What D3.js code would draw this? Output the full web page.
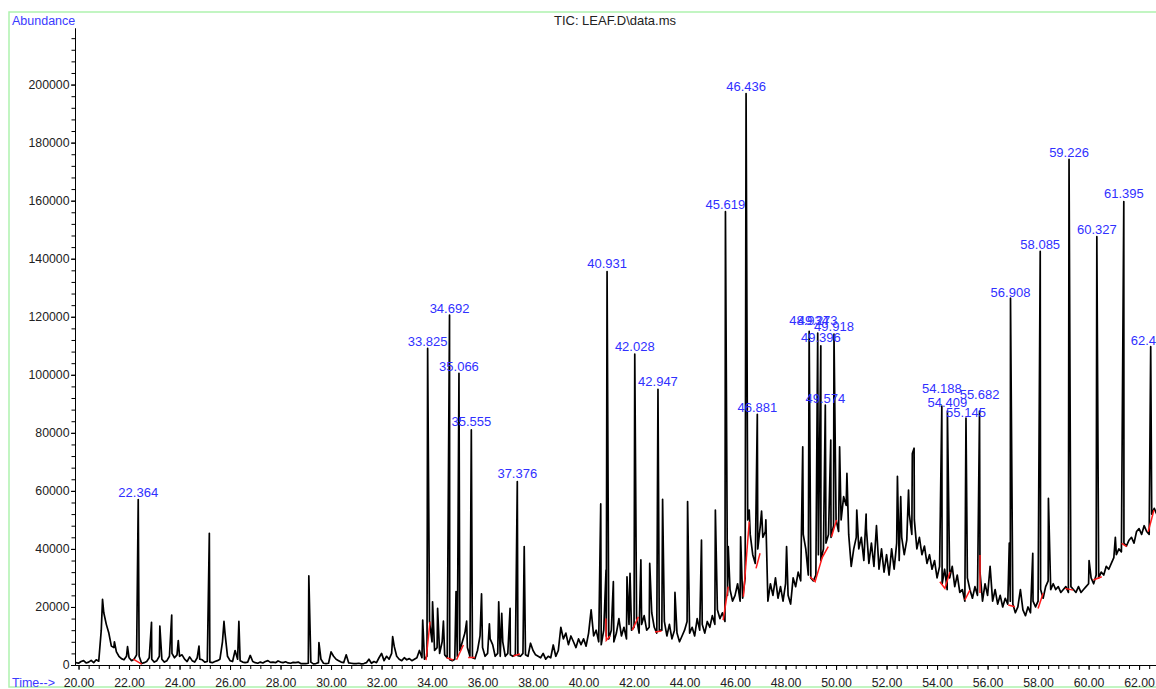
<!DOCTYPE html>
<html>
<head>
<meta charset="utf-8">
<script src="https://cdn.jsdelivr.net/npm/d3@7"></script>
<style>
body { margin: 0; background: #fff; }
svg { display: block; font-family: "Liberation Sans", Arial, Helvetica, sans-serif; }
</style>
</head>
<body>
<svg id="chart" width="1156" height="689"></svg>
<script>
// TIC trace, sampled every 0.1 min from 19.9 min, abundance in thousands
var traceStart = 19.9, traceStep = 0.1;
var abundance = [
    0.8,
    0.6, 1.2, 1.5, 0.7, 1.0, 1.6, 0.8, 1.8, 1.3, 12,     // 20
    18, 14, 11, 6.5, 6, 4.5, 3, 2.2, 1.8, 3.0,           // 21
    2.5, 1.5, 2.0, 3.5, 3.0, 0.5, 0.8, 1.2, 2.5, 2.0,    // 22
    1.0, 1.5, 3.0, 2.0, 1.0, 1.5, 3.0, 4.0, 2.5, 3.5,    // 23
    3.0, 3.5, 2.0, 1.2, 2.8, 1.5, 1.0, 2.5, 2.0, 1.8,    // 24
    1.0, 1.2, 1.0, 0.8, 1.2, 1.5, 2.0, 8, 11, 3.0,       // 25
    1.5, 1.2, 5.0, 2.0, 1.5, 1.0, 0.8, 1.0, 3.3, 1.2,    // 26
    0.8, 0.6, 1.0, 0.7, 1.2, 1.5, 0.9, 1.0, 0.8, 1.4,    // 27
    1.0, 0.8, 1.1, 0.7, 0.6, 0.9, 0.8, 1.0, 0.5, 0.5,    // 28
    0.5, 0.6, 1.0, 0.4, 0.5, 0.8, 2.0, 0.6, 0.5, 0.6,    // 29
    4.5, 3.0, 2.0, 1.5, 1.0, 0.8, 3.5, 0.7, 0.6, 0.5,    // 30
    0.5, 0.6, 0.4, 0.5, 0.8, 2.0, 0.6, 1.2, 0.8, 2.5,    // 31
    4.0, 1.5, 3.0, 2.0, 4.0, 6.5, 3.0, 2.0, 1.5, 2.5,    // 32
    1.8, 2.2, 1.5, 2.0, 2.5, 5.0, 2.5, 2.0, 3.0, 15,     // 33
    8, 5, 6, 4, 8, 3.5, 2.5, 1.8, 1.5, 2.0,              // 34
    3.0, 5, 8, 11, 6, 3, 2.5, 2.2, 5, 10,                // 35
    6, 3, 4, 9, 7, 3, 4, 3, 8, 3,                        // 36
    4, 3.5, 3.0, 3.5, 3.2, 3.0, 4, 3.5, 3.0, 7.5,        // 37
    5, 3.5, 3, 2.5, 4, 2.0, 3, 2.5, 6.9, 3,              // 38
    5, 13, 9, 11, 7, 10, 8, 6, 9, 7,                     // 39
    9, 6.5, 11, 19, 10, 12, 8, 7, 12, 10,                // 40
    9, 12, 8, 11, 16, 10, 13, 9, 14, 12,                 // 41
    13, 16, 11, 14, 17, 12, 13, 18, 13, 11,              // 42
    12, 12, 15, 10, 14, 9, 12, 11, 8, 10,                // 43
    12, 15, 11, 13, 10, 16, 12, 14, 11, 15,              // 44
    13, 17, 14, 19, 16, 18, 15, 24, 26, 22,              // 45
    24, 28, 22, 23, 30, 50, 45, 38, 35, 40,              // 46
    48, 44, 46, 22, 28, 24, 30, 23, 27, 22,              // 47
    28, 24, 21, 30, 27, 32, 29, 45, 40, 31,              // 48
    30, 29, 31, 38, 36, 40, 42, 45, 44, 48,              // 49
    50, 46, 50, 58, 55, 45, 34, 40, 44, 40,              // 50
    44, 36, 47, 35, 42, 34, 48, 33, 40, 32,              // 51
    38, 31, 40, 33, 42, 36, 44, 38, 43, 52,              // 52
    45, 50, 40, 44, 38, 41, 35, 38, 33, 36,              // 53
    30, 34, 28, 33, 26, 30, 34, 27, 31, 25,              // 54
    26, 22, 30, 26, 23, 27, 24, 32, 22, 28,              // 55
    24, 34, 22, 26, 21, 24, 20, 23, 21, 22,              // 56
    21, 18, 20, 26, 19, 17, 20, 18, 22, 20,              // 57
    22, 26, 23, 27, 29, 26, 28, 26, 27, 25,              // 58
    26, 27, 25, 27, 26, 25, 27, 25, 26, 27,              // 59
    28, 30, 28, 31, 30, 32, 31, 34, 33, 35,              // 60
    37, 38, 40, 39, 42, 41, 43, 44, 42, 46,              // 61
    47, 45, 48, 46, 45, 52, 54, 52                       // 62
];

// sharp peak apexes [time, abundance in thousands]
var peaks = [
    [20.95, 22.6], [21.42, 8], [21.94, 6.3], [22.364, 57.0], [22.89, 14.7],
    [23.22, 13.4], [23.69, 17.2], [23.95, 8.4], [24.77, 6.5], [25.18, 45.4],
    [25.76, 15], [26.35, 15], [29.12, 30.7], [29.52, 7.7], [32.44, 9.8],
    [33.63, 15.5], [33.825, 109.1], [34.02, 21.8], [34.22, 19.5], [34.45, 15.1],
    [34.692, 120.6], [34.95, 25.3], [35.066, 100.5], [35.37, 15.1], [35.555, 81.0],
    [35.96, 24.5], [36.27, 14.2], [36.64, 21.8], [36.76, 17.8], [37.09, 19.5],
    [37.376, 63.2], [37.65, 40.8], [40.68, 55.5], [40.89, 32.7], [40.931, 135.6],
    [41.18, 28.7], [41.72, 30.4], [41.84, 31.6], [42.028, 107.1], [42.27, 36.2],
    [42.62, 35], [42.947, 95.0], [43.13, 57.1], [43.62, 25], [44.12, 56.3],
    [44.67, 43], [45.22, 53.4], [45.619, 156.2], [45.73, 40.8], [46.22, 44.2],
    [46.436, 196.9], [46.56, 53.4], [46.881, 86.4], [47.05, 53], [47.22, 50],
    [48.04, 40.8], [48.68, 75.2], [48.934, 115], [49.273, 114.4], [49.396, 110],
    [49.574, 89.6], [49.79, 77.5], [49.918, 114], [50.14, 75.2], [50.43, 66],
    [50.82, 53.4], [51.19, 52], [52.43, 65], [52.56, 58], [52.87, 60.3],
    [53.02, 72.9], [53.09, 74.7], [54.188, 89.2], [54.409, 87.5], [55.145, 85.1],
    [55.682, 87.5], [56.86, 42], [56.908, 126.4], [57.79, 38.5], [58.085, 142.5],
    [58.41, 57.4], [59.226, 174.2], [60.02, 36], [60.327, 147.6], [61.06, 44],
    [61.395, 159.7], [62.46, 109.7]
];

// integration baselines (red), each a polyline of [time, abundance in thousands]
var baselines = [
    [[22.17, 2.0], [22.5, 0.3]],
    [[33.76, 1.7], [33.92, 14.9]],
    [[34.58, 2.5], [34.84, 1.7]],
    [[34.97, 1.8], [35.24, 6.9]],
    [[35.43, 2.6], [35.7, 2.6]],
    [[37.22, 3.1], [37.48, 3.8]],
    [[40.88, 16], [40.9, 8.5], [41.05, 10]],
    [[41.93, 12], [42.17, 16.6]],
    [[42.83, 11.4], [43.09, 11.7]],
    [[45.53, 15.5], [45.73, 27]],
    [[46.33, 23.5], [46.56, 49.4]],
    [[46.83, 33.3], [46.99, 38.5]],
    [[48.97, 30.4], [49.17, 28.7], [49.45, 37], [49.69, 40.8]],
    [[49.82, 44.2], [50.02, 50]],
    [[54.11, 28.7], [54.31, 26.4], [54.51, 32.1]],
    [[55.1, 22.4], [55.3, 25.8]],
    [[55.7, 24.8], [55.7, 37.9]],
    [[56.82, 20.7], [57.08, 20.1]],
    [[58.0, 19.5], [58.2, 24.7]],
    [[59.07, 26.4], [59.39, 25.8]],
    [[60.19, 29.3], [60.52, 30.4]],
    [[61.31, 41.9], [61.51, 40.8]],
    [[62.36, 45.9], [62.59, 53.4]]
];

// retention-time labels [time, text, label level in thousands]
var peakLabels = [
    [22.364, "22.364", 59.6], [33.825, "33.825", 111.4], [34.692, "34.692", 122.9],
    [35.066, "35.066", 103.0], [35.555, "35.555", 83.8], [37.376, "37.376", 66.0],
    [40.931, "40.931", 138.2], [42.028, "42.028", 109.7], [42.947, "42.947", 97.6],
    [45.619, "45.619", 158.8], [46.436, "46.436", 199.5], [46.881, "46.881", 88.9],
    [48.934, "48.934", 118.6], [49.273, "49.273", 118.6], [49.396, "49.396", 112.9],
    [49.574, "49.574", 91.9], [49.918, "49.918", 116.8], [54.188, "54.188", 95.3],
    [54.409, "54.409", 90.4], [55.145, "55.145", 86.9], [55.682, "55.682", 93.2],
    [56.908, "56.908", 128.4], [58.085, "58.085", 145.0], [59.226, "59.226", 176.7],
    [60.327, "60.327", 150.2], [61.395, "61.395", 162.3], [62.459, "62.459", 111.9]
];

var xMajorTicks = [20, 22, 24, 26, 28, 30, 32, 34, 36, 38, 40, 42, 44, 46, 48, 50, 52, 54, 56, 58, 60, 62];
var yMajorTicks = [0, 20000, 40000, 60000, 80000, 100000, 120000, 140000, 160000, 180000, 200000];

var svg = d3.select("#chart");
var plotLeft = 75, plotRight = 1156, plotTop = 28, plotBottom = 665;

var x = d3.scaleLinear().domain([19.86, 62.67]).range([plotLeft, plotRight]);
var y = d3.scaleLinear().domain([0, 219500]).range([plotBottom, plotTop]);

// frame
svg.append("rect")
    .attr("x", 9).attr("y", 12)
    .attr("width", 1180).attr("height", 675)
    .attr("fill", "none")
    .attr("stroke", "#aef2ae")
    .attr("stroke-width", 1.5);

// texts
svg.append("text").attr("x", 12).attr("y", 25)
    .attr("fill", "#3a3aff").attr("font-size", 12.5).text("Abundance");
svg.append("text").attr("x", 615).attr("y", 25).attr("text-anchor", "middle")
    .attr("fill", "#222").attr("font-size", 13).text("TIC: LEAF.D\\data.ms");
svg.append("text").attr("x", 12).attr("y", 687)
    .attr("fill", "#3a3aff").attr("font-size", 12.5).text("Time-->");

// axes
var minorX = d3.range(20, 62.7, 0.4);
var minorY = d3.range(0, 219000, 4000);

var gx = svg.append("g").attr("transform", "translate(0," + plotBottom + ")");
gx.call(d3.axisBottom(x).tickValues(minorX).tickSize(4).tickFormat("").tickSizeOuter(0));
gx.append("g").call(d3.axisBottom(x).tickValues(xMajorTicks).tickSize(5).tickPadding(8.5)
    .tickFormat(d3.format(".2f")).tickSizeOuter(0));

var gy = svg.append("g").attr("transform", "translate(" + plotLeft + ",0)");
gy.call(d3.axisLeft(y).tickValues(minorY).tickSize(3.5).tickFormat("").tickSizeOuter(0));
gy.append("g").call(d3.axisLeft(y).tickValues(yMajorTicks).tickSize(4).tickPadding(1.5)
    .tickFormat(d3.format("d")).tickSizeOuter(0));

svg.selectAll(".tick text").attr("font-size", 12.3).attr("fill", "#222")
    .style("font-family", "'Liberation Sans', Arial, sans-serif");
svg.selectAll(".domain, .tick line").attr("stroke", "#000");

// plot
svg.append("clipPath").attr("id", "plot")
    .append("rect").attr("x", plotLeft).attr("y", 0)
    .attr("width", plotRight - plotLeft + 10).attr("height", plotBottom + 0.5);

var points = abundance.map(function (v, i) { return [traceStart + i * traceStep, v]; })
    .concat(peaks)
    .sort(function (a, b) { return a[0] - b[0]; });

var line = d3.line()
    .x(function (d) { return x(d[0]); })
    .y(function (d) { return y(d[1] * 1000); });

var plot = svg.append("g").attr("clip-path", "url(#plot)");
plot.append("path")
    .datum(points)
    .attr("d", line)
    .attr("fill", "none")
    .attr("stroke", "#000")
    .attr("stroke-width", 1.7)
    .attr("stroke-linejoin", "round");

plot.selectAll(".base")
    .data(baselines)
    .enter()
    .append("path")
    .attr("class", "base")
    .attr("d", line)
    .attr("fill", "none")
    .attr("stroke", "#ff1a1a")
    .attr("stroke-width", 1.5);

svg.selectAll(".plabel")
    .data(peakLabels)
    .enter()
    .append("text")
    .attr("class", "plabel")
    .attr("x", function (d) { return x(d[0]); })
    .attr("y", function (d) { return y(d[2] * 1000) + 4.5; })
    .attr("text-anchor", "middle")
    .attr("font-size", 13)
    .attr("fill", "#3030ff")
    .text(function (d) { return d[1]; });
</script>
</body>
</html>
